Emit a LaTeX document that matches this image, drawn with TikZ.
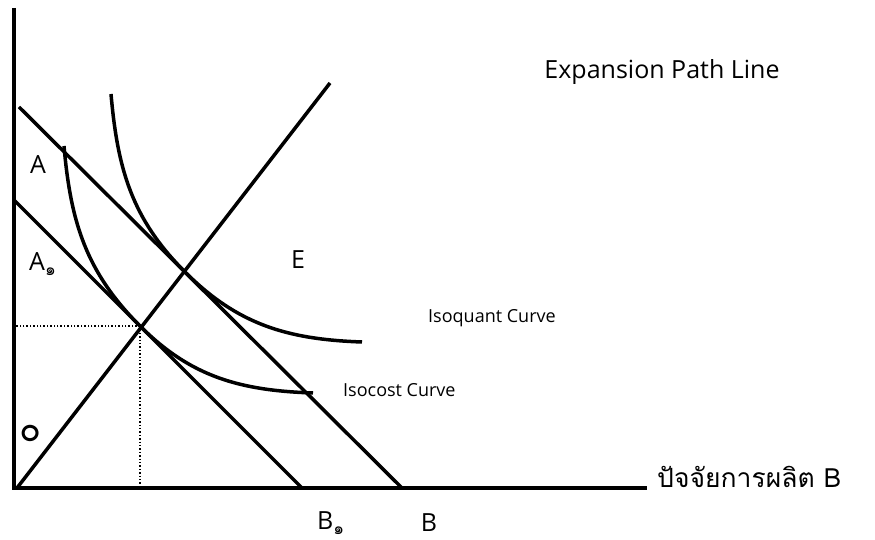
\documentclass[tikz,border=0pt]{standalone}
\usepackage{fontspec}
\setmainfont{Open Sans}
\newfontfamily\thai[Script=Thai]{Loma}
\newcommand{\thaisub}[1]{\raisebox{-0.3ex}{\fontsize{17}{17}\selectfont\thai #1}}
\begin{document}
\begin{tikzpicture}[
  x=1pt, y=1pt,
  eje/.style={line width=4pt},
  recta/.style={line width=3.5pt},
  curva/.style={line width=3.5pt},
  guia/.style={line width=1.4pt, dotted},
  etiq/.style={font=\fontsize{25}{28}\selectfont, inner sep=0pt},
  nota/.style={font=\fontsize{18}{20}\selectfont, inner sep=0pt, anchor=west}
]
\useasboundingbox (0,0) rectangle (875,540);
% ejes
\coordinate (O) at (14,52);
\coordinate (ytop) at (14,532);
\coordinate (xfin) at (647,52);
\draw[eje] (ytop) -- (O) -- (xfin);
% rectas de costo
\coordinate (A) at (19,433);
\coordinate (B) at (402,52);
\coordinate (A1) at (14,340);
\coordinate (B1) at (302,52);
\draw[recta] (A) -- (B);
\draw[recta] (A1) -- (B1);
% expansion path
\coordinate (exp0) at (17,52);
\coordinate (exp1) at (330,457);
\draw[recta] (exp0) -- (exp1);
% curvas
\coordinate (P) at (140,214);
\coordinate (E) at (185,268);
\coordinate (q1a) at (64,394);
\coordinate (q1b) at (313,147);
\coordinate (q2a) at (111,446);
\coordinate (q2b) at (362,198);
\draw[curva] (q1a) to[out=-85,in=135] (P) to[out=-45,in=178] (q1b);
\draw[curva] (q2a) to[out=-85,in=135] (E) to[out=-45,in=178] (q2b);
\draw[guia] (P) -- (P -| O);
\draw[guia] (P) -- (P |- O);
% etiquetas
\node[etiq] (lA) at (38,375) {A};
\node[etiq, anchor=base west] (lA1) at (29,269) {A\thaisub{๑}};
\node[etiq] (lO) at (30,107) {\fontsize{36}{36}\selectfont\thai ๐};
\node[etiq] (lE) at (298,280) {E};
\node[etiq, anchor=base west] (lB1) at (317,10) {B\thaisub{๑}};
\node[etiq] (lB) at (429,17) {B};
\node[nota] (iq) at (428,222) {Isoquant Curve};
\node[nota] (ic) at (343,150) {Isocost Curve};
\node[etiq] (ep) at (662,468) {Expansion Path Line};
\node[etiq, anchor=west, font=\fontsize{26.5}{30}\selectfont] (fx) at (657,63) {\thai ปัจจัยการผลิต B};
\end{tikzpicture}
\end{document}
